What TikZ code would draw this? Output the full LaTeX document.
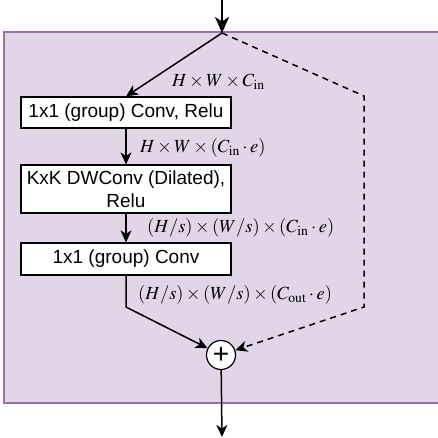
\documentclass[tikz,border=0pt]{standalone}
\usepackage{mathptmx}
\usepackage[no-math]{fontspec}
\newfontfamily\boxfont{Liberation Sans}
\usetikzlibrary{arrows.meta, positioning}
\definecolor{blockfill}{HTML}{E1D5E7}
\definecolor{blockline}{HTML}{9673A6}
\tikzset{>={Stealth[length=12pt,width=11pt,inset=3.5pt]}}
\tikzset{
  layerbox/.style={draw, fill=white, line width=1.2pt, minimum width=210pt,
    align=center, inner sep=0pt, font=\boxfont\fontsize{19}{23}\selectfont},
  dimlabel/.style={anchor=west, inner sep=0pt, font=\fontsize{18.5}{21}\selectfont},
  mainflow/.style={->, line width=1.5pt},
  shortcut/.style={->, line width=1.5pt, dash pattern=on 6pt off 5pt}
}

\begin{document}
\begin{tikzpicture}[x=1pt,y=-1pt]
  \useasboundingbox (0,0) rectangle (437,438);
  % block background
  \fill[blockfill] (4,32) rectangle (445,403);
  \draw[blockline, line width=1.2pt] (445,32) -- (4,32) -- (4,403) -- (445,403);

  \coordinate (in) at (222,0);
  \coordinate (split) at (222,33);
  \coordinate (bend) at (126,307);
  \coordinate (sk1) at (364,96);
  \coordinate (sk2) at (364,307);
  \coordinate (out) at (222,437);

  \node[layerbox, minimum height=31pt] (conv1) at (126,112.5) {1x1 (group) Conv, Relu};
  \node[layerbox, minimum height=48pt] (dwconv) at (126,189) {KxK DWConv (Dilated),\\Relu};
  \node[layerbox, minimum height=32pt] (conv2) at (126,259) {1x1 (group) Conv};
  \node[draw, circle, fill=white, line width=1.2pt, minimum size=29pt, inner sep=0pt,
    font=\boxfont\fontsize{28}{28}\selectfont] (add) at (221,355) {\raisebox{-2pt}{+}};

  \node[dimlabel] (dim1) at (172,82) {$H\times W\times C_{\mathrm{in}}$};
  \node[dimlabel] (dim2) at (140,148) {$H\times W\times (C_{\mathrm{in}}\cdot e)$};
  \node[dimlabel] (dim3) at (147,228) {$(H/s)\times (W/s)\times (C_{\mathrm{in}}\cdot e)$};
  \node[dimlabel] (dim4) at (138,295) {$(H/s)\times (W/s)\times (C_{\mathrm{out}}\cdot e)$};

  % main path
  \draw[-{Stealth[length=16pt,width=14pt,inset=4.5pt]}, line width=2pt] (in) -- (split);
  \draw[mainflow] (split) -- (conv1.north);
  \draw[mainflow] (conv1) -- (dwconv);
  \draw[mainflow] (dwconv) -- (conv2);
  \draw[mainflow] (conv2.south) -- (bend) -- (add);
  % identity path
  \draw[shortcut] (split) -- (sk1) -- (sk2) -- (add);
  \draw[mainflow] (add) -- (out);
\end{tikzpicture}
\end{document}
